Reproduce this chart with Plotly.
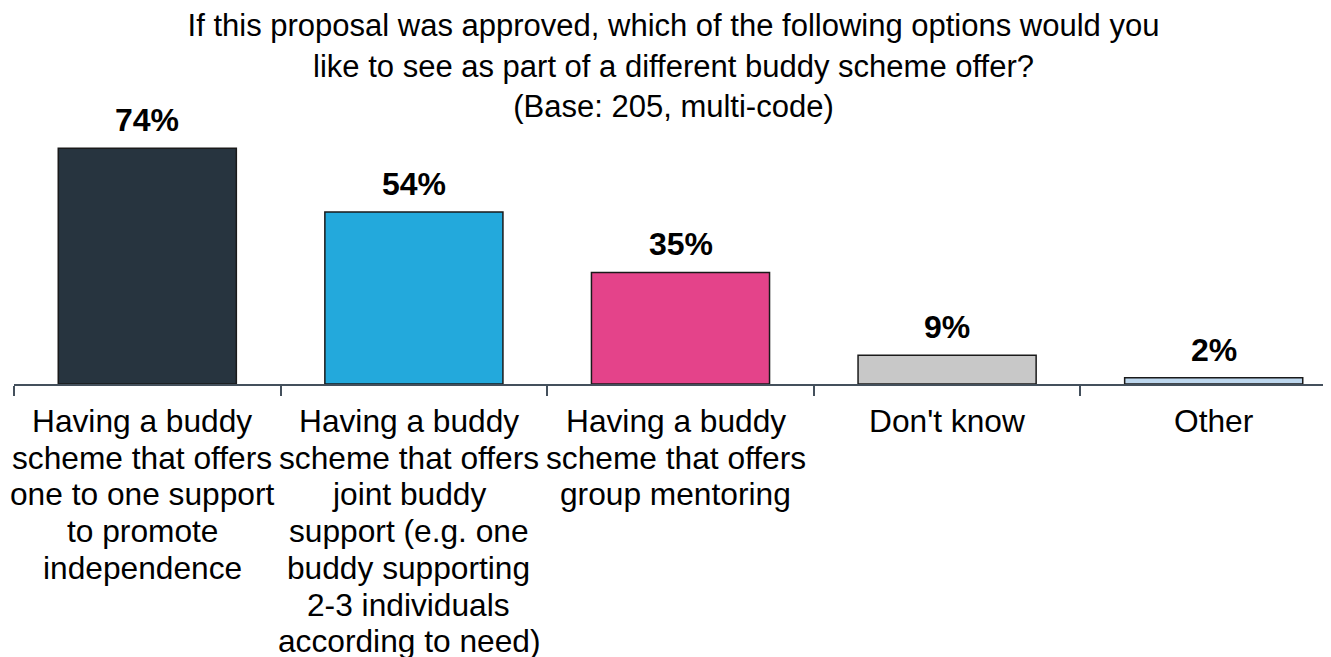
import plotly.graph_objects as go

categories = ["Having a buddy scheme that offers one to one support to promote independence",
              "Having a buddy scheme that offers joint buddy support (e.g. one buddy supporting 2-3 individuals according to need)",
              "Having a buddy scheme that offers group mentoring",
              "Don't know",
              "Other"]
label_lines = [
    ["Having a buddy", "scheme that offers", "one to one support", "to promote", "independence"],
    ["Having a buddy", "scheme that offers", "joint buddy", "support (e.g. one", "buddy supporting", "2-3 individuals", "according to need)"],
    ["Having a buddy", "scheme that offers", "group mentoring"],
    ["Don't know"],
    ["Other"],
]
values = [74, 54, 35, 9, 2]
value_labels = ["74%", "54%", "35%", "9%", "2%"]
colors = ["#27343F", "#23A9DC", "#E4438A", "#C8C8C8", "#BDD7EE"]
title_lines = ["If this proposal was approved, which of the following options would you",
               "like to see as part of a different buddy scheme offer?",
               "(Base: 205, multi-code)"]

FONT = "Liberation Sans, Arial, sans-serif"

fig = go.Figure(go.Bar(
    x=categories, y=values,
    marker=dict(color=colors, line=dict(color="#1a1a1a", width=1.5)),
    hoverinfo="skip",
))

annotations = []
for cat, val, lab in zip(categories, values, value_labels):
    annotations.append(dict(x=cat, y=val, xref="x", yref="y", text="<b>%s</b>" % lab,
                            showarrow=False, yanchor="bottom", yshift=8,
                            font=dict(family=FONT, size=32, color="#000000")))
for cat, lines in zip(categories, label_lines):
    xs = -5 if len(lines) > 1 else 0
    for i, line in enumerate(lines):
        annotations.append(dict(x=cat, y=0, xref="x", yref="paper", text=line,
                                showarrow=False, yanchor="top", yshift=-17 - i * 36.7, xshift=xs,
                                font=dict(family=FONT, size=31.7, color="#000000")))

fig.update_layout(
    width=1331, height=657,
    margin=dict(l=6, r=0, t=121, b=281),
    paper_bgcolor="white", plot_bgcolor="white",
    showlegend=False,
    bargap=0.332,
    title=dict(text="<br>".join(title_lines), x=0.5, xref="container",
               y=0.957, yref="container", yanchor="middle",
               font=dict(family=FONT, size=31, color="#000000")),
    xaxis=dict(type="category", range=[-0.5, 4.47], showticklabels=False,
               showline=True, linecolor="#44505C", linewidth=2,
               ticks="outside", tickson="boundaries", ticklen=10, tickwidth=2, tickcolor="#44505C",
               showgrid=False, zeroline=False, fixedrange=True),
    yaxis=dict(range=[0, 80], visible=False, showgrid=False, zeroline=False, fixedrange=True),
    annotations=annotations,
)

fig.write_html("out.html")
